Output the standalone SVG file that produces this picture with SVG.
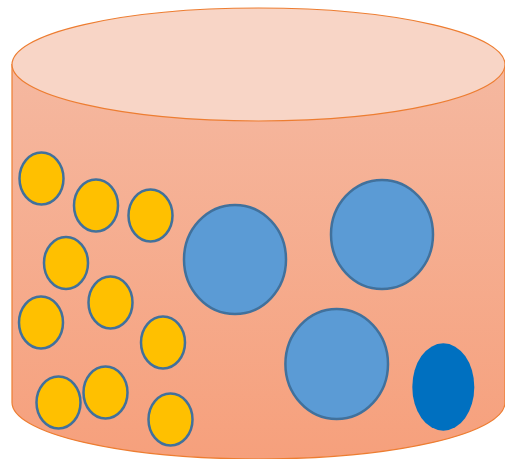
<svg xmlns="http://www.w3.org/2000/svg" width="505" height="459" viewBox="0 0 505 459">
<style>
.y{fill:#ffc000;stroke:#41719c;stroke-width:2.5}
.b{fill:#5b9bd5;stroke:#41719c;stroke-width:2.5}
</style>
<defs>
<linearGradient id="g" x1="0" y1="0" x2="0" y2="1">
<stop offset="0" stop-color="#f5b8a0"/>
<stop offset="1" stop-color="#f6a07c"/>
</linearGradient>
</defs>
<rect width="505" height="459" fill="#ffffff"/>
<path d="M12,64.5 L12,402.5 A246.5,56.5 0 0 0 505,402.5 L505,64.5 Z" fill="url(#g)" stroke="#ed7d31" stroke-width="1.2"/>
<ellipse cx="258.5" cy="64.5" rx="246.5" ry="56.5" fill="#f8d5c6" stroke="#ed7d31" stroke-width="1.2"/>
<ellipse class="y" cx="41.5" cy="178.5" rx="22" ry="26"/>
<ellipse class="y" cx="96" cy="205.5" rx="22" ry="26"/>
<ellipse class="y" cx="150.5" cy="215.5" rx="22" ry="26"/>
<ellipse class="y" cx="66" cy="263" rx="22" ry="26"/>
<ellipse class="y" cx="110.5" cy="302.5" rx="22" ry="26"/>
<ellipse class="y" cx="41" cy="322.5" rx="22" ry="26"/>
<ellipse class="y" cx="163" cy="342.5" rx="22" ry="26"/>
<ellipse class="y" cx="58.5" cy="402.5" rx="22" ry="26"/>
<ellipse class="y" cx="105.5" cy="392.5" rx="22" ry="26"/>
<ellipse class="y" cx="170.5" cy="419.5" rx="22" ry="26"/>
<ellipse class="b" cx="235" cy="259.5" rx="51" ry="54.5"/>
<ellipse class="b" cx="382" cy="234.5" rx="51" ry="54.5"/>
<ellipse class="b" cx="336.7" cy="364" rx="51.3" ry="55"/>
<ellipse cx="443.3" cy="387" rx="31" ry="43.7" fill="#0070c0"/>
</svg>
